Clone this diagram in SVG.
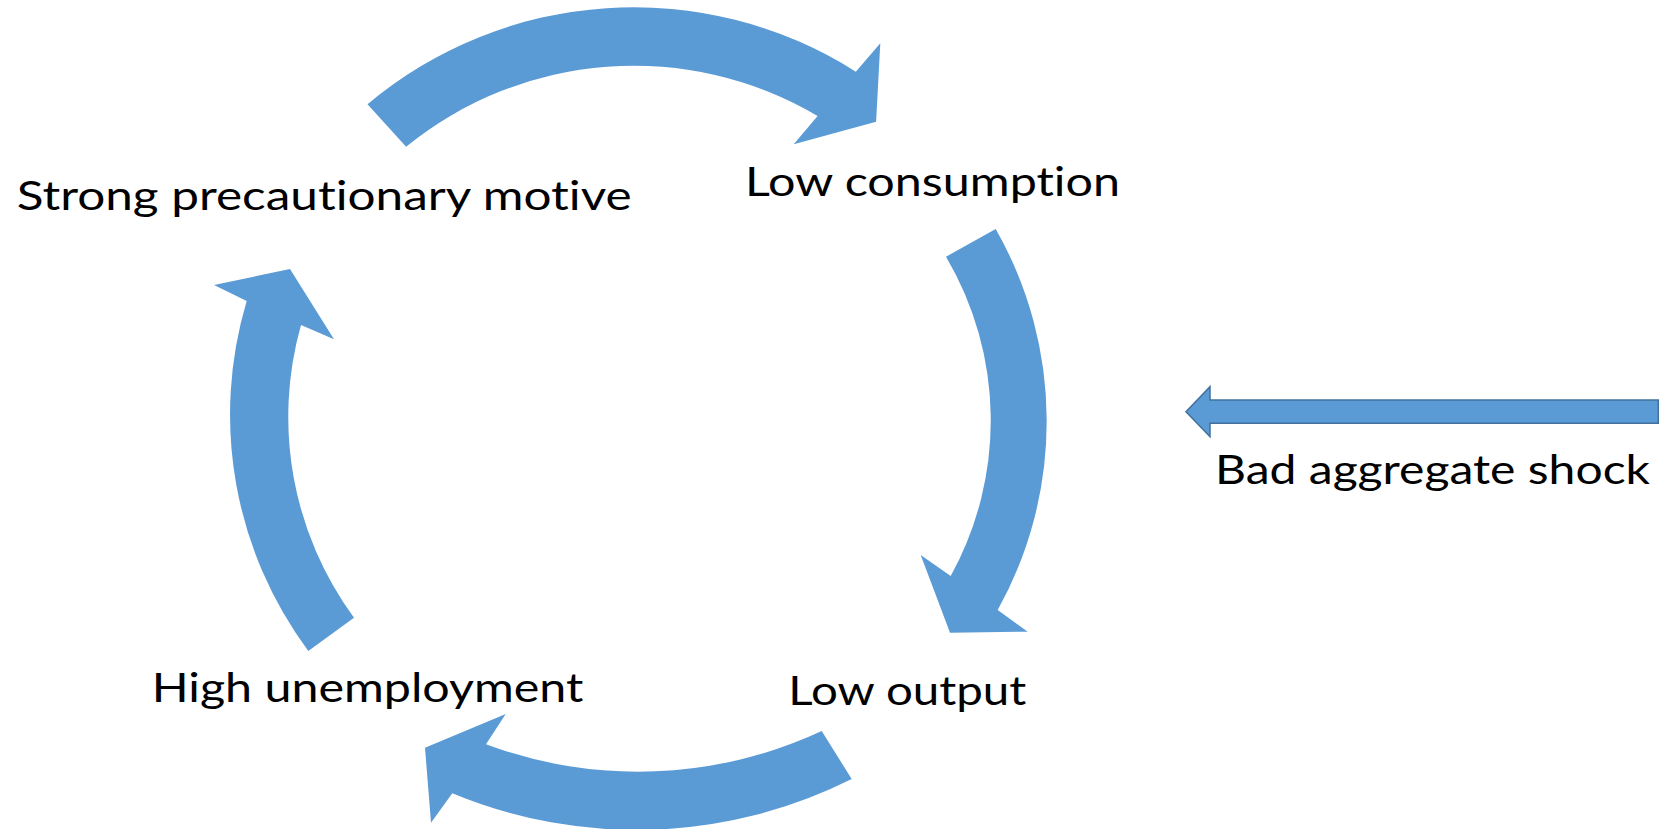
<svg xmlns="http://www.w3.org/2000/svg" width="1668" height="829" viewBox="0 0 1668 829">
  <style>
    .label { font-family: Lato, "Open Sans", "Liberation Sans", sans-serif; font-size: 41px; fill: #000000; font-variant-ligatures: none; }
    .cycle { fill: #5B9BD5; stroke: none; }
    .shock { fill: #5B9BD5; stroke: #41719C; stroke-width: 1.5; stroke-linejoin: miter; }
  </style>
  <rect width="1668" height="829" fill="#FFFFFF"/>

  <!-- curved arrows of the feedback loop, plus the external shock arrow -->
  <g id="connectors">
    <path id="arrow-top" class="cycle" d="M367.5,104.3 A414,414 0 0 1 855.8,71.7 L880.3,43.3 L876.1,121.7 L793.7,144.3 L817.6,116 A361,361 0 0 0 406.1,146.7 Z"/>
    <path id="arrow-right" class="cycle" d="M995.7,229 A388,388 0 0 1 997.7,610 L1027.7,631.7 L950,632.7 L920.7,555 L950.7,576 A322,322 0 0 0 946,256.7 Z"/>
    <path id="arrow-bottom" class="cycle" d="M851.7,779 A480,480 0 0 1 452.3,793.3 L431,822.7 L425,747.7 L505.7,714 L486,744.3 A435,435 0 0 0 821.7,731 Z"/>
    <path id="arrow-left" class="cycle" d="M308.3,651 A396,396 0 0 1 246.7,301 L214,285 L290,269 L334,339.3 L301,325 A339,339 0 0 0 354,617.7 Z"/>
    <path id="arrow-shock" class="shock" d="M1658.3,400 L1210,400 L1210,386.7 L1186,411.7 L1210,436.7 L1210,423.3 L1658.3,423.3 Z"/>
  </g>

  <g id="node-precautionary">
    <text class="label" x="16.7" y="210" textLength="615" lengthAdjust="spacingAndGlyphs">Strong precautionary motive</text>
  </g>
  <g id="node-consumption">
    <text class="label" x="745" y="196" textLength="375" lengthAdjust="spacingAndGlyphs">Low consumption</text>
  </g>
  <g id="node-output">
    <text class="label" x="788.3" y="705" textLength="238" lengthAdjust="spacingAndGlyphs">Low output</text>
  </g>
  <g id="node-unemployment">
    <text class="label" x="151.7" y="702" textLength="431.7" lengthAdjust="spacingAndGlyphs">High unemployment</text>
  </g>
  <g id="node-shock">
    <text class="label" x="1215" y="484" textLength="435" lengthAdjust="spacingAndGlyphs">Bad aggregate shock</text>
  </g>
</svg>
